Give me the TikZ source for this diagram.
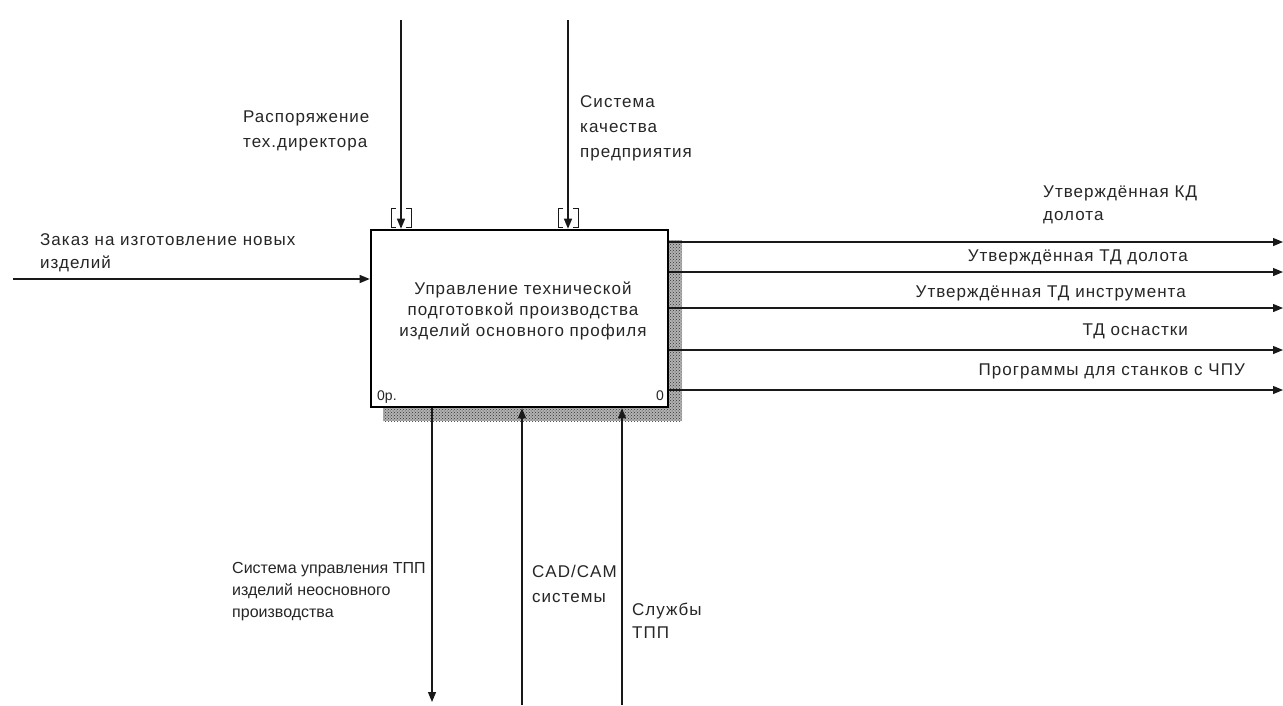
\documentclass[tikz,border=0pt]{standalone}
\usepackage{fontspec}
\setmainfont{Liberation Sans}
\newfontfamily\wide[LetterSpace=6]{Liberation Sans}
\usetikzlibrary{arrows.meta,patterns}
\begin{document}
\begin{tikzpicture}[x=1pt,y=-1pt,
  arr/.style={draw=black!90, line width=1.2pt, -{Triangle[length=10pt,width=8pt]}},
  brk/.style={draw=black!90, line width=1pt},
  lbl/.style={inner sep=0pt, align=left, text=black!85, anchor=north west},
  lbla/.style={lbl, font=\wide\fontsize{17}{25}\selectfont},
  lblb/.style={lbl, font=\wide\fontsize{17}{23}\selectfont},
  lblc/.style={lbl, font=\fontsize{16}{22}\selectfont},
  one/.style={inner sep=0pt, text=black!85, font=\wide\fontsize{17}{20}\selectfont, anchor=base east},
  funcbox/.style={draw=black, line width=2.6pt, fill=white, minimum width=297pt, minimum height=177pt, inner sep=0pt},
  boxtxt/.style={inner sep=0pt, align=center, text=black!85, font=\wide\fontsize{17}{21}\selectfont},
  small/.style={inner sep=0pt, text=black!85, font=\fontsize{14}{16}\selectfont}
]
\useasboundingbox (0,0) rectangle (1283,705);
\fill[white] (0,0) rectangle (1283,705);

% shadow
\fill[black!30] (383,240) rectangle (682,421);
\fill[pattern=crosshatch dots, pattern color=black!80] (383,240) rectangle (682,421);

% function box
\node[funcbox] (box) at (519.5,318.5) {};
\node[boxtxt] (boxtext) at (523,311) {Управление технической\\подготовкой производства\\изделий основного профиля};
\node[small, anchor=base west] (ref) at (377,400) {0р.};
\node[small, anchor=base east] (num) at (664,400) {0};

% controls
\coordinate (c1) at (401,20);
\coordinate (c2) at (568,20);
\draw[arr] (c1) -- (c1 |- box.north);
\draw[arr] (c2) -- (c2 |- box.north);
\draw[brk] (396,208) -- (391,208) -- (391,227) -- (396,227);
\draw[brk] (406,208) -- (411,208) -- (411,227) -- (406,227);
\draw[brk] (563,208) -- (558,208) -- (558,227) -- (563,227);
\draw[brk] (573,208) -- (578,208) -- (578,227) -- (573,227);
\node[lbla] (lc1) at (243,104.5) {\strut Распоряжение\\тех.директора};
\node[lbla] (lc2) at (580,89.5) {\strut Система\\качества\\предприятия};

% input
\coordinate (i1) at (13,279);
\draw[arr] (i1) -- (i1 -| box.west);
\node[lblb] (li1) at (40,228.9) {\strut Заказ на изготовление новых\\изделий};

% outputs
\coordinate (o1) at (1283,242);
\coordinate (o2) at (1283,272);
\coordinate (o3) at (1283,308);
\coordinate (o4) at (1283,350);
\coordinate (o5) at (1283,390);
\draw[arr] (box.east |- o1) -- (o1);
\draw[arr] (box.east |- o2) -- (o2);
\draw[arr] (box.east |- o3) -- (o3);
\draw[arr] (box.east |- o4) -- (o4);
\draw[arr] (box.east |- o5) -- (o5);
\node[lblb] (lo1) at (1043,180.9) {\strut Утверждённая КД\\долота};
\node[one] (lo2) at (1188,261) {Утверждённая ТД долота};
\node[one] (lo3) at (1186,297) {Утверждённая ТД инструмента};
\node[one] (lo4) at (1188,335) {ТД оснастки};
\node[one] (lo5) at (1245,375) {Программы для станков с ЧПУ};

% bottom output
\coordinate (b1) at (432,702);
\draw[arr] (box.south -| b1) -- (b1);
\node[lblc] (lb1) at (232,557.6) {\strut Система управления ТПП\\изделий неосновного\\производства};

% mechanisms
\coordinate (m1) at (522,705);
\coordinate (m2) at (622,705);
\draw[arr] (m1) -- (m1 |- box.south);
\draw[arr] (m2) -- (m2 |- box.south);
\node[lbla] (lm1) at (532,559.5) {\strut CAD/CAM\\системы};
\node[lblb] (lm2) at (632,598.9) {\strut Службы\\ТПП};
\end{tikzpicture}
\end{document}
